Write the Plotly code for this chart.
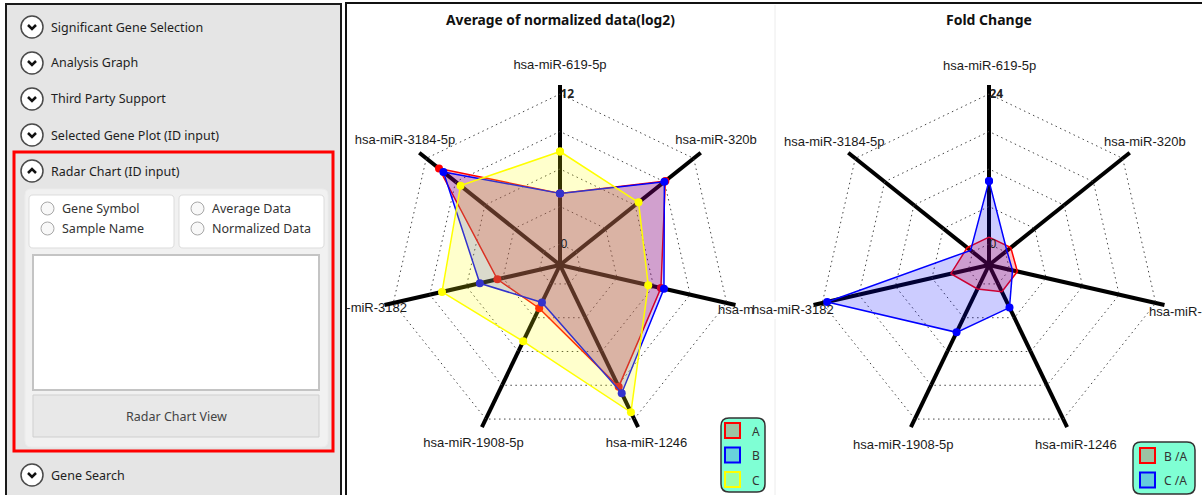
import plotly.graph_objects as go

# ---------------- data ----------------
categories = ["hsa-miR-619-5p", "hsa-miR-320b", "hsa-miR-", "hsa-miR-1246",
              "hsa-miR-1908-5p", "hsa-miR-3182", "hsa-miR-3184-5p"]
avg_A = [4.05, 9.1, 6.6, 9.14, 2.16, 3.46, 10.7]
avg_B = [4.05, 9.0, 6.85, 9.7, 1.65, 4.9, 10.25]
avg_C = [7.4, 6.36, 5.56, 11.4, 5.1, 8.0, 8.5]
fc_BA = [1.1, 1.1, 1.3, 1.4, 0.9, 2.9, 1.1]
fc_CA = [10.1, 0.3, 0.5, 4.2, 8.6, 23.2, 0.4]
avg_ticks = [0, 3, 6, 9, 12]
avg_ticktext = ["0", "", "", "", "<b>12</b>"]
fc_ticks = [0, 6, 12, 18, 24]
fc_ticktext = ["0", "", "", "", "<b>24</b>"]
avg_series = ["A", "B", "C"]
fc_series = ["B /A", "C /A"]
ui_sections = ["Significant Gene Selection", "Analysis Graph", "Third Party Support",
               "Selected Gene Plot (ID input)", "Radar Chart (ID input)", "Gene Search"]
radio_labels = ["Gene Symbol", "Sample Name", "Average Data", "Normalized Data"]
button_label = "Radar Chart View"
titles = ["Average of normalized data(log2)", "Fold Change"]

# ---------------- geometry helpers ----------------
W, H = 1202, 495
R, CY = 180, 265
CX1, CX2 = 560, 989


def X(x):
    return x / W


def Y(y):
    return 1 - y / H


shapes = []
annotations = []
UI_FONT = "Noto Sans"
LBL_FONT = "Liberation Sans"


def rect(x0, y0, x1, y1, **kw):
    shapes.append(dict(type="rect", xref="paper", yref="paper",
                       x0=X(x0), x1=X(x1), y0=Y(y1), y1=Y(y0), **kw))


def rrect(x0, y0, x1, y1, r, **kw):
    def p(x, y):
        return f"{X(x):.6f},{Y(y):.6f}"
    d = (f"M{p(x0 + r, y0)} L{p(x1 - r, y0)} Q{p(x1, y0)} {p(x1, y0 + r)} "
         f"L{p(x1, y1 - r)} Q{p(x1, y1)} {p(x1 - r, y1)} L{p(x0 + r, y1)} "
         f"Q{p(x0, y1)} {p(x0, y1 - r)} L{p(x0, y0 + r)} Q{p(x0, y0)} {p(x0 + r, y0)} Z")
    shapes.append(dict(type="path", xref="paper", yref="paper", path=d, **kw))


def circle(cx, cy, r, **kw):
    shapes.append(dict(type="circle", xref="paper", yref="paper",
                       x0=X(cx - r), x1=X(cx + r), y0=Y(cy + r), y1=Y(cy - r), **kw))


def polyline(pts, **kw):
    d = "M" + " L".join(f"{X(x):.6f},{Y(y):.6f}" for x, y in pts)
    shapes.append(dict(type="path", xref="paper", yref="paper", path=d, **kw))


def text(x, y, s, size=12.5, color="#222", xanchor="left", family=UI_FONT, **kw):
    annotations.append(dict(x=X(x), y=Y(y), xref="paper", yref="paper", text=s,
                            showarrow=False, xanchor=xanchor, yanchor="middle",
                            font=dict(family=family, size=size, color=color), **kw))


# ---------------- left UI panel ----------------
rect(6, 4, 341, 500, fillcolor="#e5e5e5", line=dict(color="#1a1a1a", width=2))
row_y = [27, 63, 99, 135, 171, 475]
for i, (label, yy) in enumerate(zip(ui_sections, row_y)):
    circle(32, yy, 11, fillcolor="white", line=dict(color="#4a4a4a", width=1.5))
    if i == 4:
        polyline([(28, yy + 2), (32, yy - 2), (36, yy + 2)], line=dict(color="#111", width=2.5))
    else:
        polyline([(28, yy - 2), (32, yy + 2), (36, yy - 2)], line=dict(color="#111", width=2.5))
    text(49, yy, label, size=12.5, color="#1e1e1e")

rect(14, 152, 333, 451, fillcolor="rgba(0,0,0,0)", line=dict(color="#ff0000", width=3))
rrect(25, 189, 328, 447, 6, fillcolor="#f1f1f1", line=dict(color="#ececec", width=1))
rrect(29, 195, 174, 248, 4, fillcolor="white", line=dict(color="#dcdcdc", width=1))
rrect(179, 195, 324, 248, 4, fillcolor="white", line=dict(color="#dcdcdc", width=1))
radio_pos = [(47.5, 208.5), (47.5, 228.5), (197.5, 208.5), (197.5, 228.5)]
for lab, (rx, ry) in zip(radio_labels, radio_pos):
    circle(rx, ry, 6.5, fillcolor="#f8f8f8", line=dict(color="#a8a8a8", width=1))
    text(rx + 12.5, ry, lab, size=12.5, color="#333")
rect(33, 255, 319, 390, fillcolor="white", line=dict(color="#c4c4c4", width=2))
rect(33, 395, 319, 437, fillcolor="#e8e8e8", line=dict(color="#cfcfcf", width=1))
text(176, 416, button_label, size=12.5, color="#444", xanchor="center")

# ---------------- chart frame ----------------
shapes.append(dict(type="line", xref="paper", yref="paper", x0=X(775), x1=X(775),
                   y0=Y(495), y1=Y(5), line=dict(color="#ececec", width=1), layer="below"))
rect(346, 3, 1204, 500, fillcolor="rgba(0,0,0,0)", line=dict(color="#111", width=2))
# right panel starts where its left label begins: it hides the tail of the left label
rect(754, 302, 776, 319, fillcolor="white", line=dict(width=0))

for t, cx, sz in zip(titles, [CX1, CX2], [13.8, 14]):
    text(cx, 19, f"<b>{t}</b>", size=sz, color="#111", xanchor="center")

# ---------------- legends ----------------
avg_line = ["#ff0000", "#0000ff", "#ffff00"]
avg_fill = ["rgba(255,0,0,0.23)", "rgba(0,0,255,0.18)", "rgba(255,255,0,0.2)"]
fc_line = ["#ff0000", "#0000ff"]
fc_fill = ["rgba(255,0,0,0.23)", "rgba(0,0,255,0.2)"]

rrect(721, 418, 765, 492, 8, fillcolor="#7fffd4", line=dict(color="#333", width=1.5))
for i, name in enumerate(avg_series):
    y0 = 423 + i * 24.5
    rect(725, y0, 740, y0 + 15, fillcolor=avg_fill[i], line=dict(color=avg_line[i], width=2))
    text(750, y0 + 8, name, size=12, color="#333")

rrect(1133, 442, 1195, 494, 8, fillcolor="#7fffd4", line=dict(color="#333", width=1.5))
for i, name in enumerate(fc_series):
    y0 = 448 + i * 24.5
    rect(1140, y0, 1155, y0 + 15, fillcolor=fc_fill[i], line=dict(color=fc_line[i], width=2))
    text(1162, y0 + 8, name, size=12, color="#333")

# ---------------- radar traces ----------------
fig = go.Figure()
theta = categories + categories[:1]


def add_radar(vals, line_c, fill_c, subplot):
    fig.add_trace(go.Scatterpolar(
        r=vals + vals[:1], theta=theta, subplot=subplot, mode="lines+markers",
        fill="toself", fillcolor=fill_c, line=dict(color=line_c, width=1.5),
        marker=dict(size=8, color=line_c), showlegend=False, hoverinfo="skip"))


# draw order: A, B, C (left) ; B/A, C/A (right)
add_radar(avg_A, avg_line[0], avg_fill[0], "polar")
add_radar(avg_B, avg_line[1], avg_fill[1], "polar")
add_radar(avg_C, avg_line[2], avg_fill[2], "polar")
add_radar(fc_BA, fc_line[0], fc_fill[0], "polar2")
add_radar(fc_CA, fc_line[1], fc_fill[1], "polar2")

# ---------------- axis category labels ----------------
# (dx, dy from radar centre, anchor)
label_off = [(0, -199, "center"), (156, -124, "center"), (158, 46, "left"),
             (86.5, 179, "center"), (-86.5, 179, "center"), (-153, 44, "right"),
             (-155, -124, "center")]
pos_map = {"center": "middle center", "left": "middle right", "right": "middle left"}

# left radar: text trace clipped to its panel
fig.add_trace(go.Scatter(
    x=[CX1 + o[0] for o in label_off], y=[CY + o[1] for o in label_off],
    text=categories, mode="text", textposition=[pos_map[o[2]] for o in label_off],
    textfont=dict(family=LBL_FONT, size=13, color="#1a1a1a"),
    xaxis="x", yaxis="y", cliponaxis=True, showlegend=False, hoverinfo="skip"))

# right radar labels
for cat, (dx, dy, anc) in zip(categories, label_off):
    text(CX2 + dx, CY + dy, cat, size=13, color="#1a1a1a", xanchor=anc, family=LBL_FONT)


def polar_layout(cx, rng, ticks, ticktext):
    return dict(
        domain=dict(x=[X(cx - R), X(cx + R)], y=[Y(CY + R), Y(CY - R)]),
        bgcolor="rgba(0,0,0,0)",
        gridshape="linear",
        radialaxis=dict(range=rng, tickvals=ticks, ticktext=ticktext, showline=False,
                        ticks="", gridcolor="#444", griddash="1.5px,3.5px", gridwidth=1,
                        angle=90, side="clockwise", tickangle=90,
                        tickfont=dict(family=UI_FONT, size=12, color="#222")),
        angularaxis=dict(type="category", categoryarray=categories, direction="clockwise",
                         rotation=90, showline=False, showticklabels=False, ticks="",
                         gridcolor="black", gridwidth=3.5),
    )


fig.update_layout(
    width=W, height=H, autosize=False,
    margin=dict(l=0, r=0, t=0, b=0),
    paper_bgcolor="white", plot_bgcolor="rgba(0,0,0,0)",
    polar=polar_layout(CX1, [-1.68, 12.72], avg_ticks, avg_ticktext),
    polar2=polar_layout(CX2, [-3.36, 25.44], fc_ticks, fc_ticktext),
    xaxis=dict(domain=[X(347), X(775)], range=[347, 775], visible=False, fixedrange=True),
    yaxis=dict(domain=[0, 1], range=[H, 0], visible=False, fixedrange=True),
    shapes=shapes, annotations=annotations,
)

fig.write_html("out.html", config={"displayModeBar": False},
               post_script="document.body.style.margin='0';document.body.style.overflow='hidden';")
